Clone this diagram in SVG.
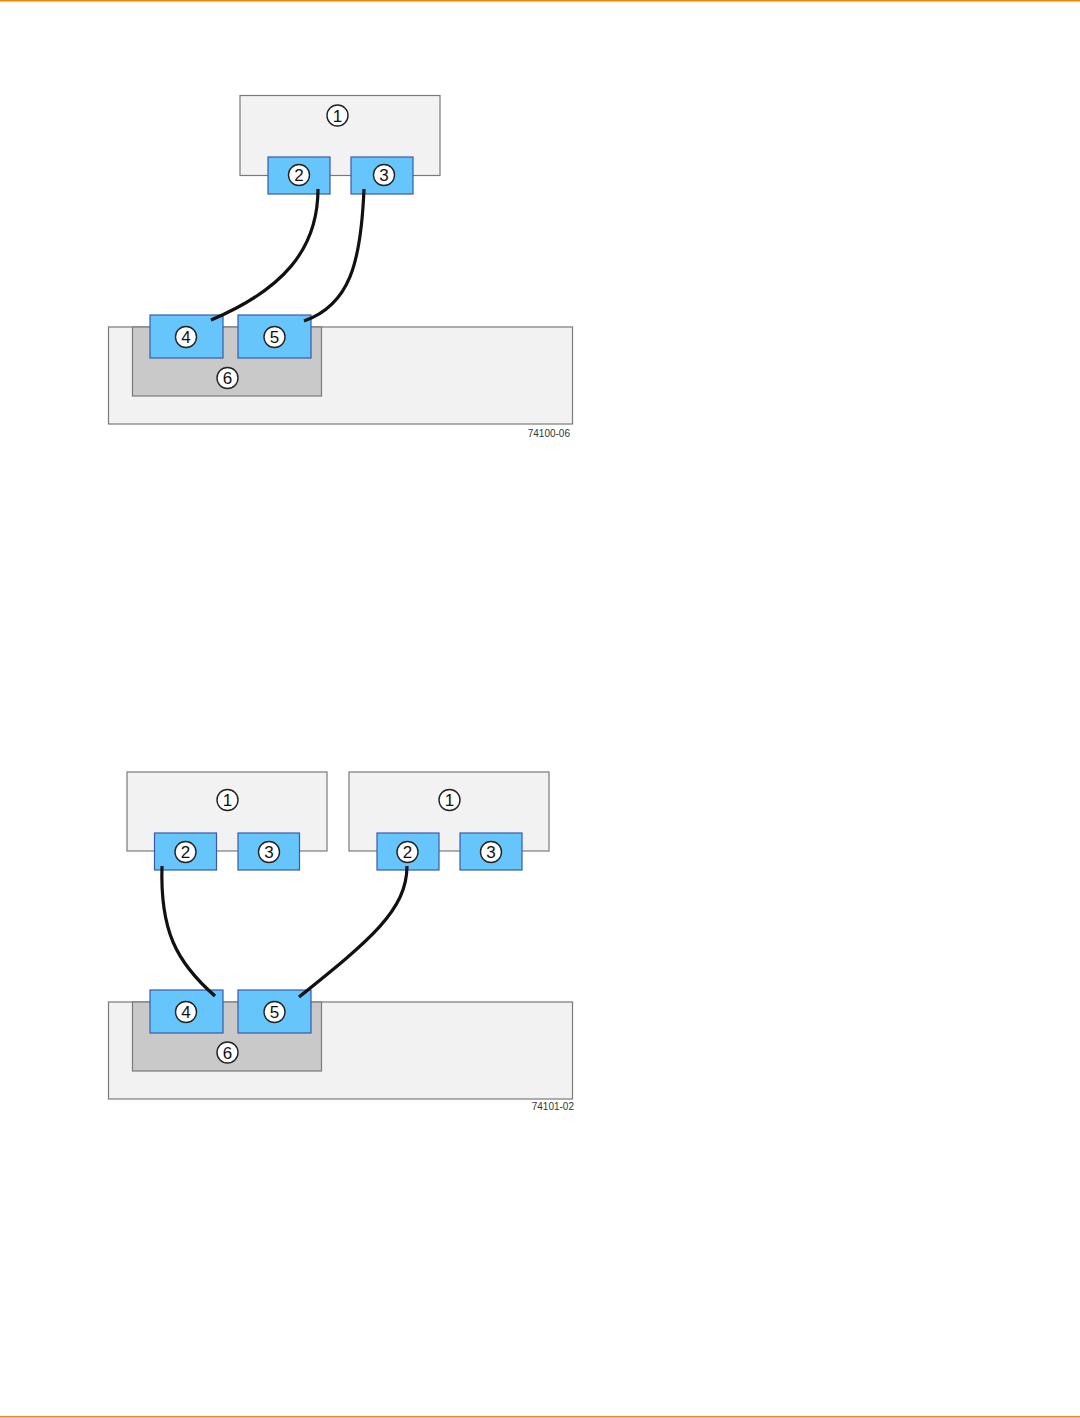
<svg xmlns="http://www.w3.org/2000/svg" width="1080" height="1418" viewBox="0 0 1080 1418">
<style>
.box{fill:#f2f2f2;stroke:#7a7a7a;stroke-width:1.2}
.port{fill:#66c6fb;stroke:#3a5aa8;stroke-width:1.2}
.shelf{fill:#c9c9c9;stroke:#7a7a7a;stroke-width:1.2}
.c{fill:#ffffff;stroke:#222;stroke-width:1.4}
.n{font-family:"Liberation Sans",Arial,sans-serif;font-size:17px;fill:#111;text-anchor:middle}
.cable{fill:none;stroke:#111;stroke-width:3.2;stroke-linecap:butt}
.fig{font-family:"Liberation Sans",Arial,sans-serif;font-size:10px;fill:#333;text-anchor:end}
</style>
<rect x="0" y="0" width="1080" height="1418" fill="#ffffff"/>
<rect x="0" y="0" width="1080" height="1.5" fill="#f28a00"/>
<rect x="0" y="1416" width="1080" height="1.5" fill="#e08a2a"/>

<!-- Figure 1 -->
<g id="fig1-host">
<rect class="box" x="240" y="95.5" width="200" height="80"/>
<circle class="c" cx="337.5" cy="115.5" r="10.5"/><text class="n" x="337.5" y="121.6">1</text>
</g>
<g id="fig1-port2">
<rect class="port" x="268" y="157" width="62" height="37"/>
<circle class="c" cx="299" cy="175" r="10.5"/><text class="n" x="299" y="181.1">2</text>
</g>
<g id="fig1-port3">
<rect class="port" x="351" y="157" width="62" height="37"/>
<circle class="c" cx="384" cy="175" r="10.5"/><text class="n" x="384" y="181.1">3</text>
</g>
<g id="fig1-tray">
<rect class="box" x="108.5" y="327" width="464" height="97"/>
</g>
<g id="fig1-controller">
<rect class="shelf" x="132.5" y="327" width="189" height="69"/>
<circle class="c" cx="227.5" cy="378" r="10.5"/><text class="n" x="227.5" y="384.1">6</text>
</g>
<g id="fig1-port4">
<rect class="port" x="150" y="315" width="73" height="43"/>
<circle class="c" cx="186" cy="337" r="10.5"/><text class="n" x="186" y="343.1">4</text>
</g>
<g id="fig1-port5">
<rect class="port" x="238" y="315" width="73" height="43"/>
<circle class="c" cx="274.5" cy="337" r="10.5"/><text class="n" x="274.5" y="343.1">5</text>
</g>
<text class="fig" x="570" y="437">74100-06</text>

<!-- Figure 2 -->
<g id="fig2-hostA">
<rect class="box" x="127" y="772" width="200" height="79"/>
<circle class="c" cx="227.5" cy="800" r="10.5"/><text class="n" x="227.5" y="806.1">1</text>
</g>
<g id="fig2-hostB">
<rect class="box" x="349" y="772" width="200" height="79"/>
<circle class="c" cx="449.5" cy="800" r="10.5"/><text class="n" x="449.5" y="806.1">1</text>
</g>
<g id="fig2-hostA-port2">
<rect class="port" x="154.5" y="833" width="62" height="37"/>
<circle class="c" cx="185.5" cy="852" r="10.5"/><text class="n" x="185.5" y="858.1">2</text>
</g>
<g id="fig2-hostA-port3">
<rect class="port" x="238" y="833" width="61.5" height="37"/>
<circle class="c" cx="269" cy="852" r="10.5"/><text class="n" x="269" y="858.1">3</text>
</g>
<g id="fig2-hostB-port2">
<rect class="port" x="377" y="833" width="62" height="37"/>
<circle class="c" cx="407.5" cy="852" r="10.5"/><text class="n" x="407.5" y="858.1">2</text>
</g>
<g id="fig2-hostB-port3">
<rect class="port" x="460" y="833" width="62" height="37"/>
<circle class="c" cx="491" cy="852" r="10.5"/><text class="n" x="491" y="858.1">3</text>
</g>
<g id="fig2-tray">
<rect class="box" x="108.5" y="1002" width="464" height="97"/>
</g>
<g id="fig2-controller">
<rect class="shelf" x="132.5" y="1002" width="189" height="69"/>
<circle class="c" cx="227.5" cy="1052.5" r="10.5"/><text class="n" x="227.5" y="1058.6">6</text>
</g>
<g id="fig2-port4">
<rect class="port" x="150" y="990" width="73" height="43"/>
<circle class="c" cx="186" cy="1012" r="10.5"/><text class="n" x="186" y="1018.1">4</text>
</g>
<g id="fig2-port5">
<rect class="port" x="238" y="990" width="73" height="43"/>
<circle class="c" cx="274.5" cy="1012" r="10.5"/><text class="n" x="274.5" y="1018.1">5</text>
</g>
<text class="fig" x="574" y="1110">74101-02</text>

<g id="connectors">
<path class="cable" d="M318,189 C318,250 282,290 211,320"/>
<path class="cable" d="M364,189 C361,262 350,305 304,321"/>
<path class="cable" d="M162,866 C160,930 176,962 215,996"/>
<path class="cable" d="M407,866 C407,910 370,940 299,997"/>
</g>
</svg>
